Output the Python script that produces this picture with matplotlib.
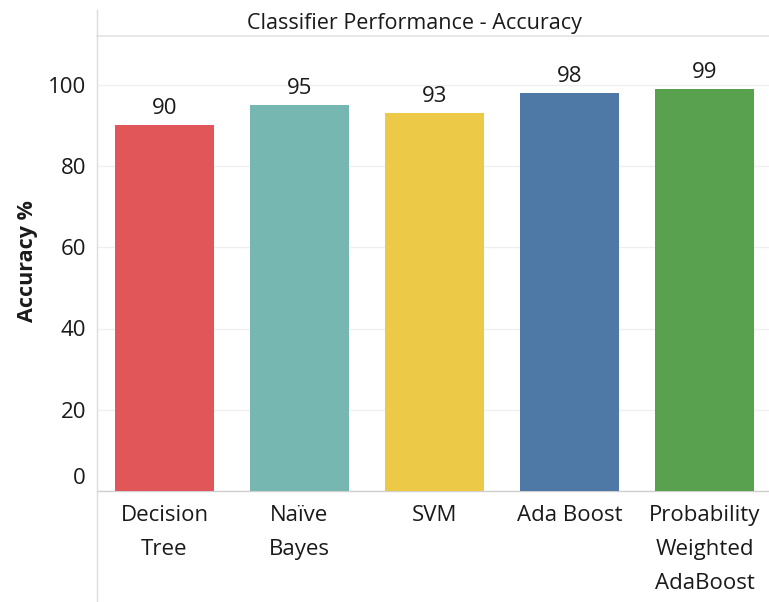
import matplotlib
matplotlib.use("Agg")
import matplotlib.pyplot as plt
from matplotlib.lines import Line2D
import matplotlib.transforms as mtransforms

plt.rcParams['font.family'] = ['Open Sans', 'DejaVu Sans']

# Data
classifiers = ["Decision\nTree", "Naïve\nBayes", "SVM", "Ada Boost",
               "Probability\nWeighted\nAdaBoost"]
accuracy = [90, 95, 93, 98, 99]
bar_colors = ["#e15759", "#76b7b2", "#edc948", "#4e79a7", "#59a14f"]
y_ticks = [0, 20, 40, 60, 80, 100]

TEXT = "#1a1a1a"
W, H = 769, 602
fig = plt.figure(figsize=(W / 100, H / 100), dpi=100)
ax = fig.add_axes([97 / W, 111 / H, (W - 97) / W, 455 / H])

x = list(range(len(classifiers)))
ax.bar(x, accuracy, width=0.74, color=bar_colors, zorder=3)

ax.set_xlim(-0.5, 4.478)
ax.set_ylim(0, 112)

# value labels above bars
for xi, v in zip(x, accuracy):
    ax.annotate(f"{v}", (xi, v), xytext=(0, 4.5), textcoords="offset points",
                ha="center", va="bottom", fontsize=16, color=TEXT)

# y axis
ax.set_yticks(y_ticks)
ax.set_yticklabels([str(t) for t in y_ticks], fontsize=16, color=TEXT)
ax.tick_params(axis="y", length=0, pad=8)
for t in y_ticks:
    ax.axhline(t, color="#efefef", lw=0.9, zorder=0)

# keep the zero label inside the axis range
zero_lbl = ax.get_yticklabels()[0]
zero_lbl.set_transform(zero_lbl.get_transform() +
                       mtransforms.ScaledTranslation(0, 15 / 100, fig.dpi_scale_trans))

# x axis
ax.set_xticks(x)
ax.set_xticklabels(classifiers, fontsize=16, color=TEXT, linespacing=1.82)
ax.tick_params(axis="x", length=0, pad=10)

ax.set_ylabel("Accuracy %", fontsize=15.5, fontweight="bold", color=TEXT,
              labelpad=0)
ax.yaxis.set_label_coords(-59 / 672, (491 - 261) / 455)

for s in ["left", "right"]:
    ax.spines[s].set_visible(False)
ax.spines["top"].set_color("#e4e4e4")
ax.spines["top"].set_linewidth(1.2)
ax.spines["bottom"].set_color("#cfcfcf")
ax.spines["bottom"].set_linewidth(1.0)

# tall vertical rule along the value axis
fig.add_artist(Line2D([97 / W, 97 / W], [0, 1 - 10 / H],
                      transform=fig.transFigure, color="#dcdcdc", lw=1.0))

# title over the plotting area
fig.text(414 / W, 1 - 23 / H, "Classifier Performance - Accuracy",
         ha="center", va="center", fontsize=15.5, color=TEXT)

fig.savefig("out.png", dpi=100, facecolor="white")
